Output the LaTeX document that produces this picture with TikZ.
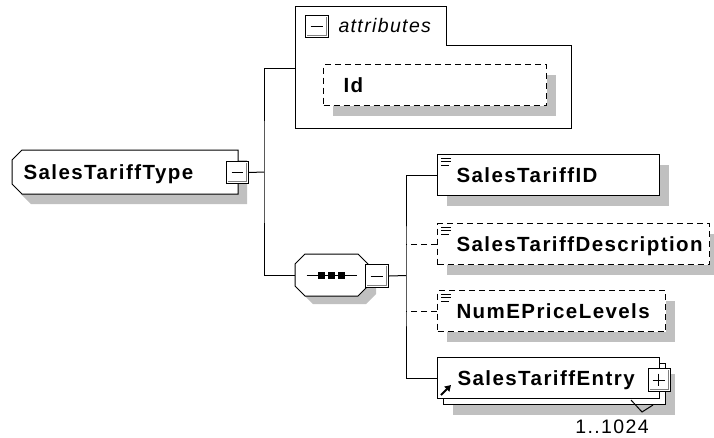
\documentclass[tikz,border=0pt]{standalone}
\usepackage{fontspec}
\setmainfont{Liberation Sans}[LetterSpace=7]
\usetikzlibrary{arrows.meta, positioning, calc, shadows}

\definecolor{shadowgray}{RGB}{192,192,192}
\definecolor{framegray}{RGB}{128,128,128}

% three short strokes in the top left corner of an element box
\newcommand{\contentmark}[1]{%
  \draw[line width=0.8pt]
    ([xshift=4pt,yshift=-4pt]#1.north west) -- ++(10,0)
    ([xshift=4pt,yshift=-7.5pt]#1.north west) -- ++(10,0)
    ([xshift=4pt,yshift=-11pt]#1.north west) -- ++(8,0);}
% inner frame of an expand/collapse button
\newcommand{\btnframe}{%
  \draw[framegray, line width=1.4pt]
    ([xshift=-1.8pt,yshift=-1.5pt]path picture bounding box.north east)
    |- ([xshift=1.5pt,yshift=1.8pt]path picture bounding box.south west);}

\begin{document}
\begin{tikzpicture}[
    x=1pt, y=-1pt,
    line width=1pt,
    namefont/.style={font=\bfseries\fontsize{20.5}{24}\selectfont},
    shade/.style={general shadow={fill=shadowgray, shadow xshift=9pt, shadow yshift=-10pt}},
    frame/.style={inner sep=0pt},
    elem/.style={draw, fill=white, inner sep=0pt, minimum height=41pt},
    optelem/.style={elem, dash pattern=on 6pt off 4pt},
    nametext/.style={namefont, inner sep=0pt, anchor=base west},
    minusbtn/.style={draw, fill=white, inner sep=0pt, minimum width=22pt, minimum height=22pt,
                     path picture={\btnframe
                       \draw ([xshift=5pt]path picture bounding box.west)
                          -- ([xshift=-6pt]path picture bounding box.east);}},
    plusbtn/.style={draw, fill=white, inner sep=0pt, minimum width=22pt, minimum height=23pt,
                    path picture={\btnframe
                      \draw ([xshift=4pt]path picture bounding box.west)
                         -- ([xshift=-6pt]path picture bounding box.east)
                            ([xshift=-1pt,yshift=-5pt]path picture bounding box.north)
                         -- ([xshift=-1pt,yshift=6pt]path picture bounding box.south);}},
    conn/.style={line width=1pt, black},
]
\useasboundingbox (0,0) rectangle (714,437);

% === Complex type ===
\node[frame, minimum width=225pt, minimum height=43pt, anchor=north west] (salestarifftype) at (12,150) {};
\draw[fill=white, shade]
    ([xshift=10pt]salestarifftype.north west) -| (salestarifftype.south east)
 -- ([xshift=10pt]salestarifftype.south west) -- ([yshift=10pt]salestarifftype.south west)
 -- ([yshift=-10pt]salestarifftype.north west) -- cycle;
\node[nametext] at ([xshift=11pt,yshift=-7pt]salestarifftype.west) {SalesTariffType};
\node[minusbtn, anchor=north west] (typebtn) at (226,161) {};

% === Attributes group ===
\draw[fill=white] (295,6) -- (446,6) -- (446,45) -- (571,45) -- (571,128) -- (295,128) -- cycle;
\coordinate (attrs) at (295,68);
\node[minusbtn, minimum width=23pt, anchor=north west] (attrbtn) at (305,15) {};
\node[font=\itshape\fontsize{19.5}{22}\selectfont, inner sep=0pt, anchor=base west]
     (attrtitle) at (338,32) {attributes};
\node[optelem, shade, minimum width=223pt, anchor=north west] (id) at (323,64) {};
\node[nametext] at ([xshift=20pt,yshift=-7pt]id.west) {Id};

% === Sequence compositor ===
\node[frame, minimum width=72pt, minimum height=41pt, anchor=north west] (seq) at (295,254) {};
\draw[fill=white, general shadow={fill=shadowgray, shadow xshift=8pt, shadow yshift=-8pt}]
    ([xshift=10pt]seq.north west) -- ([xshift=-10pt]seq.north east)
 -- ([yshift=-10pt]seq.north east) -- ([yshift=10pt]seq.south east)
 -- ([xshift=-10pt]seq.south east) -- ([xshift=10pt]seq.south west)
 -- ([yshift=10pt]seq.south west) -- ([yshift=-10pt]seq.north west) -- cycle;
\draw ([xshift=-25pt]seq.center) -- ([xshift=25pt]seq.center);
\foreach \dx in {-10,0,10}
  \fill ([xshift=\dx pt]seq.center) +(-3.5,-3.5) rectangle +(3.5,3.5);
\node[minusbtn, minimum width=23pt, minimum height=23pt, anchor=north west] (seqbtn) at (365,264) {};

% === Child elements ===
\node[elem, shade, minimum width=222pt, anchor=north west] (tariffid) at (437,154) {};
\node[nametext] at ([xshift=19pt,yshift=-7pt]tariffid.west) {SalesTariffID};
\contentmark{tariffid}

\node[optelem, shade, minimum width=272pt, anchor=north west] (tariffdesc) at (437,223) {};
\node[nametext] at ([xshift=19pt,yshift=-7pt]tariffdesc.west) {SalesTariffDescription};
\contentmark{tariffdesc}

\node[optelem, shade, minimum width=228pt, anchor=north west] (numeprice) at (437,290) {};
\node[nametext] at ([xshift=19pt,yshift=-7pt]numeprice.west) {NumEPriceLevels};
\contentmark{numeprice}

\node[elem, shade, minimum width=222pt, anchor=north west] (entryback) at (443,363) {};
\node[elem, minimum width=222pt, anchor=north west] (entry) at (437,357) {};
\node[nametext] at ([xshift=20pt,yshift=-7pt]entry.west) {SalesTariffEntry};
\draw[-{Triangle[length=6pt,width=7pt]}, line width=2pt]
     ([xshift=4pt,yshift=4pt]entry.south west) -- ++(10,-10);
\node[plusbtn, anchor=north west] (entrybtn) at (648,368) {};
\draw ([xshift=-35pt,yshift=5pt]entryback.south east)
   -- ([xshift=-24pt,yshift=-7pt]entryback.south east)
   -- ([xshift=-13pt]entryback.south east);
\node[font=\fontsize{19.5}{22}\selectfont, inner sep=0pt, anchor=base]
     (occurs) at ([xshift=-54pt,yshift=-28pt]entryback.south east) {1..1024};

% === Connectors ===
\coordinate (fork1) at (264,172);
\coordinate (fork2) at (406,275.5);
\draw[conn] (typebtn.east) -- (fork1);
\draw[conn] (attrs) -| (fork1) |- (seq.west);
\draw[conn] (seqbtn.east) -- (fork2);
\draw[conn] (tariffid.west) -| (fork2) |- (entry.west);
\draw[conn, dash pattern=on 6pt off 4pt] (tariffdesc.west) -- (tariffdesc.west -| fork2);
\draw[conn, dash pattern=on 6pt off 4pt] (numeprice.west) -- (numeprice.west -| fork2);

\end{tikzpicture}
\end{document}
